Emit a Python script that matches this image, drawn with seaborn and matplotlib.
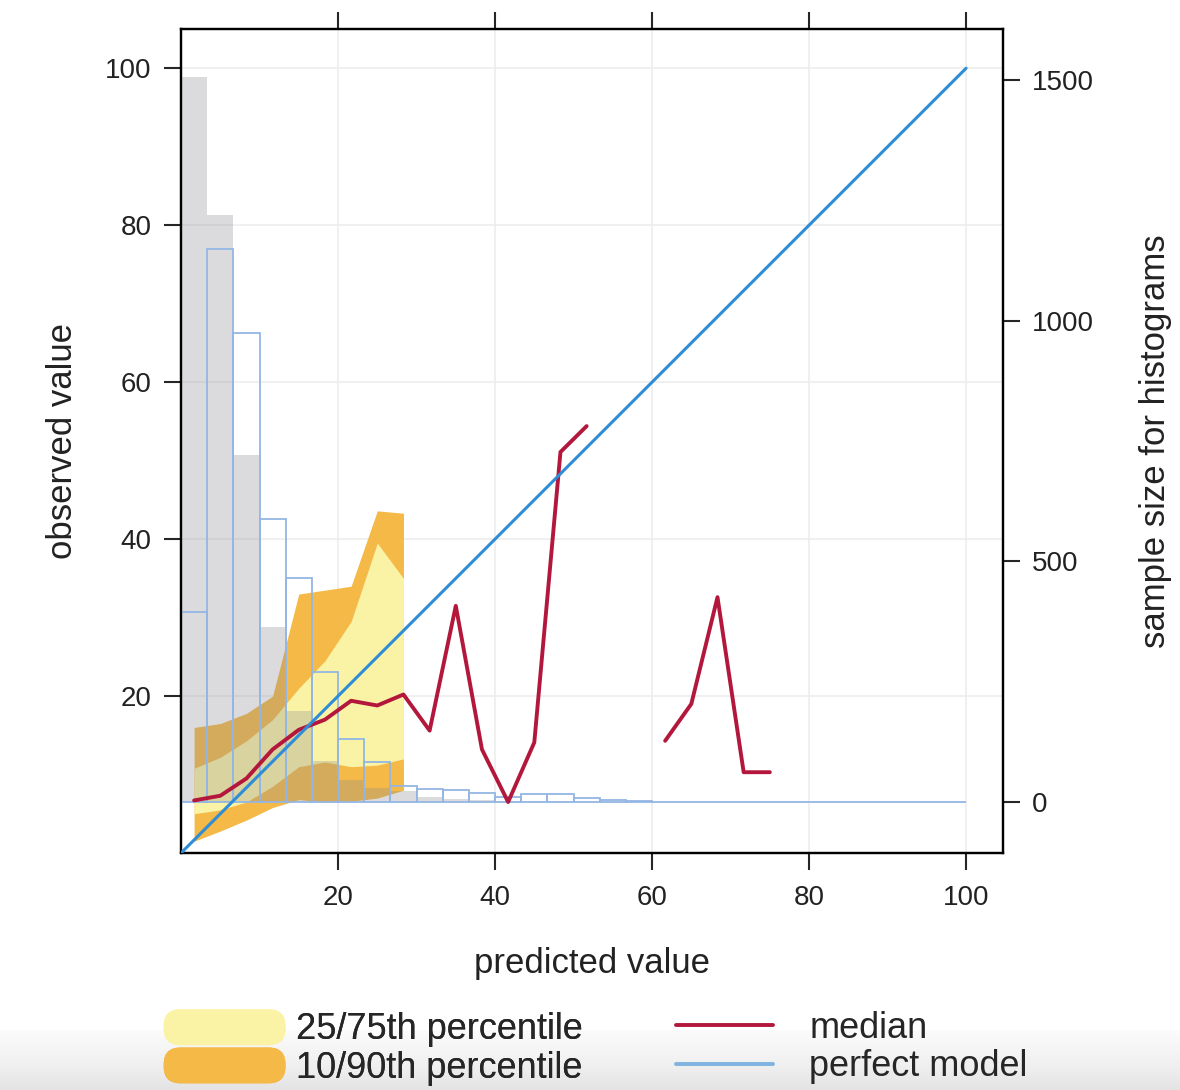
import numpy as np
import pandas as pd
import matplotlib
matplotlib.use("Agg")
import matplotlib.pyplot as plt
import seaborn as sns
from matplotlib.patches import Patch, FancyBboxPatch
from matplotlib.lines import Line2D
from matplotlib.legend_handler import HandlerPatch

# 30 histogram bins over the predicted range
n_bins = 30
bin_range = (0, 100)
bin_edges = np.linspace(bin_range[0], bin_range[1], n_bins + 1)
bin_mid = (bin_edges[:-1] + bin_edges[1:]) / 2

# histogram counts (right axis)
obs_counts = [1506, 1219, 720, 364, 190, 85, 45, 30, 22, 10,
              6, 4, 3, 2, 2, 1, 1, 1, 0, 0,
              0, 0, 0, 0, 0, 0, 0, 0, 0, 0]
pred_counts = [394, 1149, 974, 588, 465, 271, 130, 84, 33, 27,
               24, 19, 11, 17, 17, 8, 4, 2, 1, 1,
               1, 1, 0, 0, 0, 0, 0, 0, 0, 0]

# conditional quantiles of observed values (first 9 bins)
q10 = [1.5, 2.8, 4.2, 5.8, 6.8, 6.5, 6.6, 7.0, 8.0]
q25 = [5.0, 5.5, 6.5, 8.5, 11.0, 11.6, 11.0, 11.2, 12.0]
q75 = [10.8, 12.2, 14.3, 17.0, 21.0, 24.5, 29.5, 39.5, 35.0]
q90 = [16.0, 16.5, 17.8, 20.0, 33.0, 33.5, 34.0, 43.6, 43.3]

# median of observed values per bin (NaN = empty bin)
median_obs = [6.7, 7.3, 9.5, 13.2, 15.7, 17.0, 19.4, 18.8, 20.2, 15.6,
              31.5, 13.2, 6.5, 14.1, 51.1, 54.4, np.nan, np.nan, 14.3, 19.0,
              32.6, 10.3, 10.3]

perfect = [0, 100]

YELLOW = "#FAF3A6"
ORANGE = "#F4B947"
RED = "#B3183C"
BLUE = "#2E8DD6"
HIST_BLUE = "#93B6E4"
TXT = "#222222"

sns.set_theme(style="white")
plt.rcParams['font.family'] = ['Liberation Sans', 'DejaVu Sans']

hist_df = pd.DataFrame({'mid': bin_mid, 'obs': obs_counts, 'pred': pred_counts})

fig = plt.figure(figsize=(11.8, 10.9), dpi=100)

# faint grey band at the bottom of the frame
bg = fig.add_axes([0, 0, 1, 0.055], zorder=-5)
bg.imshow(np.linspace(0, 1, 50).reshape(-1, 1), aspect='auto', cmap='Greys',
          vmin=-0.2, vmax=6, origin='upper', extent=[0, 1, 0, 1])
bg.axis('off')

ax = fig.add_axes([0.1534, 0.2174, 0.6966, 0.7560])
ax.set_xlim(0, 104.7)
ax.set_ylim(0, 105)
ax.set_xticks([20, 40, 60, 80, 100])
ax.set_yticks([20, 40, 60, 80, 100])
ax.grid(True, color='#ededed', lw=1.2)
ax.set_axisbelow(True)

# quantile bands
nq = len(q90)
ax.fill_between(bin_mid[:nq], q10, q90, color=ORANGE, lw=0)
ax.fill_between(bin_mid[:nq], q25, q75, color=YELLOW, lw=0)

# histograms on the secondary axis
ax2 = ax.twinx()
sns.histplot(data=hist_df, x='mid', weights='obs', bins=n_bins, binrange=bin_range,
             ax=ax2, color='#8a8a90', alpha=0.3, linewidth=0)
sns.histplot(data=hist_df, x='mid', weights='pred', bins=n_bins, binrange=bin_range,
             ax=ax2, fill=False, color=HIST_BLUE, linewidth=1.3)
ax2.set_ylim(-106, 1606)
ax2.set_yticks([0, 500, 1000, 1500])

# lines on top
ax3 = ax.twinx()
med_df = pd.DataFrame({'x': bin_mid[:len(median_obs)], 'y': median_obs})
med_df['seg'] = med_df['y'].isna().cumsum()
med_df = med_df.dropna()
sns.lineplot(data=med_df, x='x', y='y', units='seg', estimator=None,
             color=RED, lw=2.8, ax=ax3)
sns.lineplot(x=perfect, y=perfect, color=BLUE, lw=2.2, ax=ax3)
ax3.set_ylim(0, 105)
ax3.axis('off')
ax.set_xlim(0, 104.7)

for a in (ax, ax2):
    for s in a.spines.values():
        s.set_color('black')
        s.set_linewidth(1.6)

ax.tick_params(axis='x', bottom=True, top=True, labeltop=False, direction='out',
               length=12, width=1.5, pad=11, labelsize=20, labelcolor=TXT)
ax.tick_params(axis='y', left=True, right=False, direction='out',
               length=12, width=1.5, pad=9, labelsize=20, labelcolor=TXT)
ax2.tick_params(axis='y', right=True, left=False, direction='out',
                length=12, width=1.5, pad=9, labelsize=20, labelcolor=TXT)

ax.set_xlabel('predicted value', fontsize=25, labelpad=26, color=TXT)
ax.set_ylabel('observed value', fontsize=25, labelpad=19, color=TXT)
ax2.set_ylabel('sample size for histograms', fontsize=25,
               labelpad=32, color=TXT, rotation=90)


def rounded_patch(legend, orig_handle, xdescent, ydescent, width, height, fontsize):
    return FancyBboxPatch((-xdescent + 4, -ydescent + 3), width - 8, height - 6,
                          boxstyle='round,pad=3,rounding_size=12', mutation_scale=1)


# legend
h1 = [Patch(facecolor=YELLOW, edgecolor='none'), Patch(facecolor=ORANGE, edgecolor='none')]
leg1 = fig.legend(h1, ['25/75th percentile', '10/90th percentile'], loc='center left',
                  bbox_to_anchor=(0.110, 0.039), frameon=False,
                  handlelength=3.45, handleheight=1.15, labelspacing=0.0,
                  handletextpad=0.25, prop={'size': 26},
                  handler_map={Patch: HandlerPatch(patch_func=rounded_patch)})
fig.add_artist(leg1)
h2 = [Line2D([], [], color=RED, lw=2.8), Line2D([], [], color='#7FB3E0', lw=2.8)]
fig.legend(h2, ['median', 'perfect model'], loc='center left',
           bbox_to_anchor=(0.545, 0.039), frameon=False,
           handlelength=2.7, labelspacing=0.1, handletextpad=1.0,
           prop={'size': 26})

fig.savefig('out.png', dpi=100)
